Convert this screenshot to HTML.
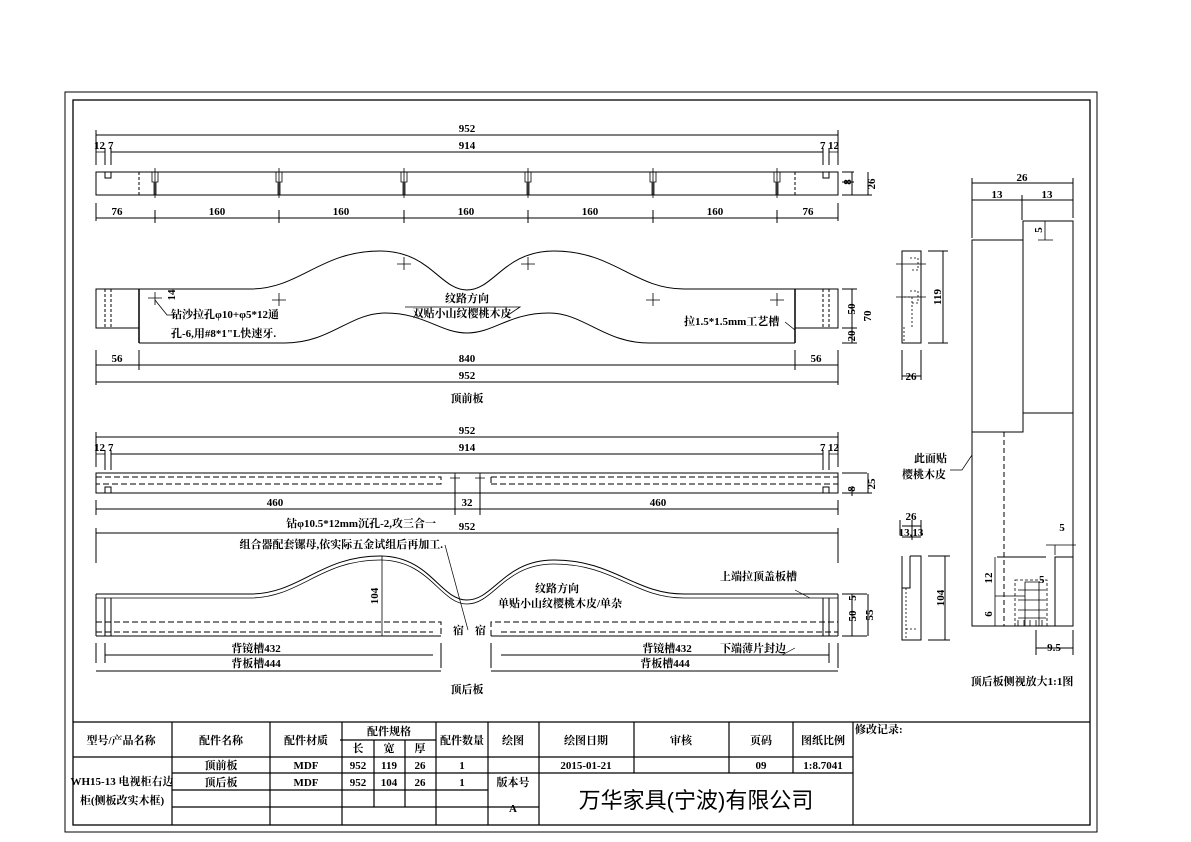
<!DOCTYPE html>
<html><head><meta charset="utf-8"><style>
body{margin:0;background:#fff}
svg{display:block}
text{font-family:"Liberation Serif","Noto Serif CJK SC","Noto Sans CJK SC",serif;font-size:11px;fill:#000}
.b{font-weight:bold}
</style></head><body>
<svg width="1191" height="842" viewBox="0 0 1191 842" xmlns="http://www.w3.org/2000/svg">
<g fill="none" stroke="#000" stroke-width="1">
<rect x="65" y="92" width="1032" height="740"/>
<rect x="73" y="100" width="1017" height="725" stroke-width="1.3"/>

<path d="M96,130v35 M838,130v35"/>
<line x1="96" y1="135" x2="838" y2="135"/>
<path d="M105,148v17 M111,148v17 M823,148v17 M829,148v17"/>
<line x1="111" y1="152" x2="823" y2="152"/>
<path d="M96,152h9 M829,152h9" stroke-width="0.7"/>
<rect x="96" y="172" width="742" height="23"/>
<polyline points="105,172 105,178 111,178 111,172"/>
<polyline points="823,172 823,178 829,178 829,172"/>
<line x1="139" y1="172" x2="139" y2="195" stroke-dasharray="3,2"/>
<line x1="795" y1="172" x2="795" y2="195" stroke-dasharray="3,2"/>
<g stroke-width="0.8">
<path d="M152,172v10h2v13 M158,172v10h-2v13 M155,168v30"/>
<path d="M276,172v10h2v13 M282,172v10h-2v13 M279,168v30"/>
<path d="M401,172v10h2v13 M407,172v10h-2v13 M404,168v30"/>
<path d="M525,172v10h2v13 M531,172v10h-2v13 M528,168v30"/>
<path d="M650,172v10h2v13 M656,172v10h-2v13 M653,168v30"/>
<path d="M774,172v10h2v13 M780,172v10h-2v13 M777,168v30"/>
</g>
<line x1="96" y1="218" x2="838" y2="218"/>
<path d="M96,203v18 M155,210v13 M279,210v13 M404,210v13 M528,210v13 M653,210v13 M777,210v13 M838,203v18"/>
<path d="M842,172h12 M842,195h30 M842,182h12 M852,172v23 M868,172v23"/>

<rect x="96" y="289" width="43" height="39"/>
<rect x="795" y="289" width="43" height="39"/>
<path d="M105,289v39 M111,289v39 M823,289v39 M829,289v39" stroke-dasharray="3,2"/>
<path d="M139,289v54 M795,289v54" stroke-width="1.5"/>
<path d="M139,289 H250 C300,289 320,251 380,251 C430,251 440,290 467,290 C494,290 504,251 554,251 C614,251 634,289 684,289 H795"/>
<path d="M139,343 H285 C330,343 350,313 385,313 C425,313 440,333 467,333 C494,333 509,313 549,313 C584,313 604,343 649,343 H795"/>
<g stroke-width="0.8">
<path d="M148,298h14 M155,292v13 M272,300h14 M279,293v13 M397,264h14 M404,257v13 M521,264h14 M528,257v13 M646,300h14 M653,293v13 M770,300h14 M777,293v13"/>
<path d="M155,300 L167,315 H175"/>
<path d="M405,307 H520 L505,317"/>
<path d="M795,330 L785,322"/>
</g>
<path d="M96,350v35 M139,350v20 M795,350v20 M838,350v35"/>
<line x1="96" y1="365" x2="838" y2="365"/>
<line x1="96" y1="382" x2="838" y2="382"/>
<path d="M842,289h15 M842,328h15 M842,343h15 M852,289v54"/>
<rect x="902" y="251" width="19" height="92"/>
<path d="M896,264h30 M896,297h30" stroke-width="0.8"/>
<path d="M910,258h8v12h-8 M910,291h8v12h-8 M904,297h8v30 M904,327v16" stroke-dasharray="2,2" stroke-width="0.8"/>
<path d="M928,251h20 M928,343h20 M943,251v92"/>
<path d="M902,350v30 M921,350v30 M902,376h19"/>

<path d="M96,432v35 M838,432v35"/>
<line x1="96" y1="437" x2="838" y2="437"/>
<path d="M105,450v20 M111,450v20 M823,450v20 M829,450v20"/>
<line x1="111" y1="454" x2="823" y2="454"/>
<path d="M96,454h9 M829,454h9" stroke-width="0.7"/>
<rect x="96" y="473" width="742" height="20"/>
<path d="M96,477 H441 V484 H96 M491,477 H838 M491,484 H838 M491,477v7" stroke-dasharray="6,3"/>
<polyline points="105,493 105,487 111,487 111,493"/>
<path d="M823,493v-6h6v6"/>
<path d="M450,478h10 M455,473v10 M475,478h10 M480,473v10" stroke-width="0.8"/>
<line x1="96" y1="509" x2="838" y2="509"/>
<path d="M96,500v15 M455,475v40 M480,475v40 M838,500v15"/>
<path d="M842,473h25 M842,493h30 M852,486v10 M868,473v20"/>

<path d="M96,528v35 M838,528v35"/>
<line x1="96" y1="533" x2="838" y2="533"/>
<path d="M96,594 H250 C300,594 320,556 380,556 C430,556 440,600 467,600 C494,600 504,560 554,560 C614,560 634,594 684,594 H838"/>
<path d="M96,598 H250 C300,598 320,560 380,560 C430,560 440,604 467,604 C494,604 504,564 554,564 C614,564 634,598 684,598 H838" stroke-width="0.8"/>
<path d="M96,594v42 M838,594v42 M105,598v38 M111,598v38 M823,598v38 M829,598v38"/>
<path d="M96,636 H441 M491,636 H838"/>
<path d="M96,622 H441 V636 M96,632 H433 M491,636 V622 H838 M501,632 H838" stroke-dasharray="6,3"/>
<path d="M382,556v80" stroke-width="0.8"/>
<path d="M445,545 L468,630" stroke-width="0.7"/>
<path d="M795,590 L810,598 M795,648 L782,655" stroke-width="0.7"/>
<path d="M96,643v20 M441,643v25 M491,643v25 M838,643v25 M105,643v20 M829,643v20"/>
<line x1="105" y1="655" x2="433" y2="655"/><line x1="501" y1="655" x2="829" y2="655"/>
<line x1="96" y1="671" x2="441" y2="671"/><line x1="491" y1="671" x2="838" y2="671"/>
<path d="M842,594h25 M842,636h25 M852,594v42 M868,594v42"/>
<path d="M910,556h11v84h-19v-84 M902,588h8v-32"/>
<path d="M906,588v50 M906,629h11" stroke-dasharray="2,2" stroke-width="0.8"/>
<path d="M900,520v15 M912,520v20 M921,520v15 M902,526h19 M902,537h19"/>
<path d="M928,556h22 M928,640h22 M945,556v84"/>

<path d="M972,178v60 M1073,178v40 M1022,195v25 M972,183h101 M972,200h101"/>
<rect x="972" y="240" width="51" height="192"/>
<rect x="1023" y="221" width="50" height="192"/>
<path d="M972,432 V626 H1073 V413 M1073,557 H1055 V626 M997,557 H1046"/>
<line x1="1004" y1="432" x2="1004" y2="626" stroke-dasharray="5,3"/>
<path d="M1038,240h15 M1045,221v19" stroke-width="0.8"/>
<path d="M1046,545h30 M1055,545v10" stroke-width="0.8"/>
<path d="M995,557v69 M995,596h30" stroke-width="0.8"/>
<rect x="1015" y="580" width="32" height="46" stroke-dasharray="3,2" stroke-width="0.8"/>
<path d="M1025,582h14v44h-14z M1018,590h28 M1018,600h28 M1018,610h28 M1018,618h28 M1018,626v-6 M1024,626v-6 M1030,626v-6 M1036,626v-6 M1042,626v-6" stroke-width="0.8"/>
<path d="M1036,630v25 M1073,630v25 M1036,648h37"/>
<path d="M972,455 L962,470 H950" stroke-width="0.7"/>

<g stroke-width="1.2">
<line x1="73" y1="722" x2="1090" y2="722"/>
<line x1="73" y1="757" x2="853" y2="757"/>
<line x1="172" y1="773" x2="853" y2="773"/>
<line x1="172" y1="790" x2="488" y2="790"/>
<line x1="172" y1="807" x2="539" y2="807"/>
<line x1="340" y1="740" x2="436" y2="740"/>
<path d="M172,722v103 M270,722v103 M342,722v103 M436,722v103 M488,722v103 M539,722v103 M634,722v51 M729,722v51 M793,722v51 M853,722v103"/>
<path d="M374,740v67 M405,740v67"/>
</g>
</g>

<g class="b">
<text x="467" y="132" text-anchor="middle">952</text>
<text x="467" y="149" text-anchor="middle">914</text>
<text x="94" y="149">12</text><text x="108" y="149">7</text>
<text x="820" y="149">7</text><text x="828" y="149">12</text>
<text x="117" y="215" text-anchor="middle">76</text>
<text x="217" y="215" text-anchor="middle">160</text>
<text x="341" y="215" text-anchor="middle">160</text>
<text x="466" y="215" text-anchor="middle">160</text>
<text x="590" y="215" text-anchor="middle">160</text>
<text x="715" y="215" text-anchor="middle">160</text>
<text x="808" y="215" text-anchor="middle">76</text>
<text transform="translate(851,182) rotate(-90)" text-anchor="middle" font-size="9">8</text>
<text transform="translate(875,184) rotate(-90)" text-anchor="middle">26</text>

<text x="467" y="302" text-anchor="middle">纹路方向</text>
<text x="462" y="317" text-anchor="middle">双贴小山纹樱桃木皮</text>
<text x="171" y="318">钻沙拉孔φ10+φ5*12通</text>
<text x="171" y="337">孔-6,用#8*1"L快速牙.</text>
<text x="684" y="325">拉1.5*1.5mm工艺槽</text>
<text transform="translate(175,295) rotate(-90)" text-anchor="middle" font-size="10">14</text>
<text x="117" y="362" text-anchor="middle">56</text>
<text x="467" y="362" text-anchor="middle">840</text>
<text x="816" y="362" text-anchor="middle">56</text>
<text x="467" y="379" text-anchor="middle">952</text>
<text x="467" y="402" text-anchor="middle">顶前板</text>
<text transform="translate(855,309) rotate(-90)" text-anchor="middle">50</text>
<text transform="translate(871,316) rotate(-90)" text-anchor="middle">70</text>
<text transform="translate(855,336) rotate(-90)" text-anchor="middle">20</text>
<text transform="translate(941,297) rotate(-90)" text-anchor="middle">119</text>
<text x="911" y="380" text-anchor="middle">26</text>

<text x="467" y="434" text-anchor="middle">952</text>
<text x="467" y="451" text-anchor="middle">914</text>
<text x="94" y="451">12</text><text x="108" y="451">7</text>
<text x="820" y="451">7</text><text x="828" y="451">12</text>
<text x="275" y="506" text-anchor="middle">460</text>
<text x="467" y="506" text-anchor="middle">32</text>
<text x="658" y="506" text-anchor="middle">460</text>
<text transform="translate(855,489) rotate(-90)" text-anchor="middle" font-size="9">8</text>
<text transform="translate(875,484) rotate(-90)" text-anchor="middle">25</text>

<text x="436" y="527" text-anchor="end">钻φ10.5*12mm沉孔-2,攻三合一</text>
<text x="467" y="530" text-anchor="middle">952</text>
<text x="443" y="548" text-anchor="end">组合器配套镙母,依实际五金试组后再加工.</text>
<text transform="translate(378,596) rotate(-90)" text-anchor="middle">104</text>
<text x="557" y="592" text-anchor="middle">纹路方向</text>
<text x="560" y="607" text-anchor="middle">单贴小山纹樱桃木皮/单杂</text>
<text x="720" y="580">上端拉顶盖板槽</text>
<text x="720" y="652">下端薄片封边</text>
<text x="453" y="634" font-size="9">宿</text><text x="475" y="634" font-size="9">宿</text>
<text x="256" y="652" text-anchor="middle">背镜槽432</text>
<text x="256" y="667" text-anchor="middle">背板槽444</text>
<text x="667" y="652" text-anchor="middle">背镜槽432</text>
<text x="665" y="667" text-anchor="middle">背板槽444</text>
<text x="467" y="693" text-anchor="middle">顶后板</text>
<text transform="translate(856,616) rotate(-90)" text-anchor="middle">50</text>
<text transform="translate(873,615) rotate(-90)" text-anchor="middle">55</text>
<text transform="translate(856,598) rotate(-90)" text-anchor="middle" font-size="8">5</text>
<text transform="translate(944,598) rotate(-90)" text-anchor="middle">104</text>
<text x="911" y="520" text-anchor="middle">26</text>
<text x="911" y="536" text-anchor="middle">13,13</text>

<text x="1022" y="181" text-anchor="middle">26</text>
<text x="997" y="198" text-anchor="middle">13</text>
<text x="1047" y="198" text-anchor="middle">13</text>
<text transform="translate(1042,230) rotate(-90)" text-anchor="middle" font-size="10">5</text>
<text x="947" y="462" text-anchor="end">此面贴</text>
<text x="946" y="478" text-anchor="end">樱桃木皮</text>
<text x="1062" y="531" text-anchor="middle">5</text>
<text x="1039" y="583" font-size="10">5</text>
<text transform="translate(992,578) rotate(-90)" text-anchor="middle">12</text>
<text transform="translate(992,614) rotate(-90)" text-anchor="middle">6</text>
<text x="1054" y="651" text-anchor="middle">9.5</text>
<text x="1022" y="685" text-anchor="middle">顶后板侧视放大1:1图</text>

<text x="121" y="744" text-anchor="middle">型号/产品名称</text>
<text x="221" y="744" text-anchor="middle">配件名称</text>
<text x="306" y="744" text-anchor="middle">配件材质</text>
<text x="389" y="735" text-anchor="middle">配件规格</text>
<text x="358" y="752" text-anchor="middle">长</text>
<text x="389" y="752" text-anchor="middle">宽</text>
<text x="420" y="752" text-anchor="middle">厚</text>
<text x="462" y="744" text-anchor="middle">配件数量</text>
<text x="513" y="744" text-anchor="middle">绘图</text>
<text x="586" y="744" text-anchor="middle">绘图日期</text>
<text x="681" y="744" text-anchor="middle">审核</text>
<text x="761" y="744" text-anchor="middle">页码</text>
<text x="823" y="744" text-anchor="middle">图纸比例</text>
<text x="855" y="733">修改记录:</text>
<text x="221" y="769" text-anchor="middle">顶前板</text>
<text x="306" y="769" text-anchor="middle">MDF</text>
<text x="358" y="769" text-anchor="middle">952</text>
<text x="389" y="769" text-anchor="middle">119</text>
<text x="420" y="769" text-anchor="middle">26</text>
<text x="462" y="769" text-anchor="middle">1</text>
<text x="586" y="769" text-anchor="middle">2015-01-21</text>
<text x="761" y="769" text-anchor="middle">09</text>
<text x="823" y="769" text-anchor="middle">1:8.7041</text>
<text x="221" y="786" text-anchor="middle">顶后板</text>
<text x="306" y="786" text-anchor="middle">MDF</text>
<text x="358" y="786" text-anchor="middle">952</text>
<text x="389" y="786" text-anchor="middle">104</text>
<text x="420" y="786" text-anchor="middle">26</text>
<text x="462" y="786" text-anchor="middle">1</text>
<text x="513" y="786" text-anchor="middle">版本号</text>
<text x="513" y="812" text-anchor="middle">A</text>
<text x="122" y="785" text-anchor="middle">WH15-13 电视柜右边</text>
<text x="122" y="804" text-anchor="middle">柜(侧板改实木框)</text>
</g>
<text x="696" y="808" text-anchor="middle" style="font-family:'Liberation Sans','Noto Sans CJK SC',sans-serif;font-size:22px">万华家具(宁波)有限公司</text>
</svg>
</body></html>
